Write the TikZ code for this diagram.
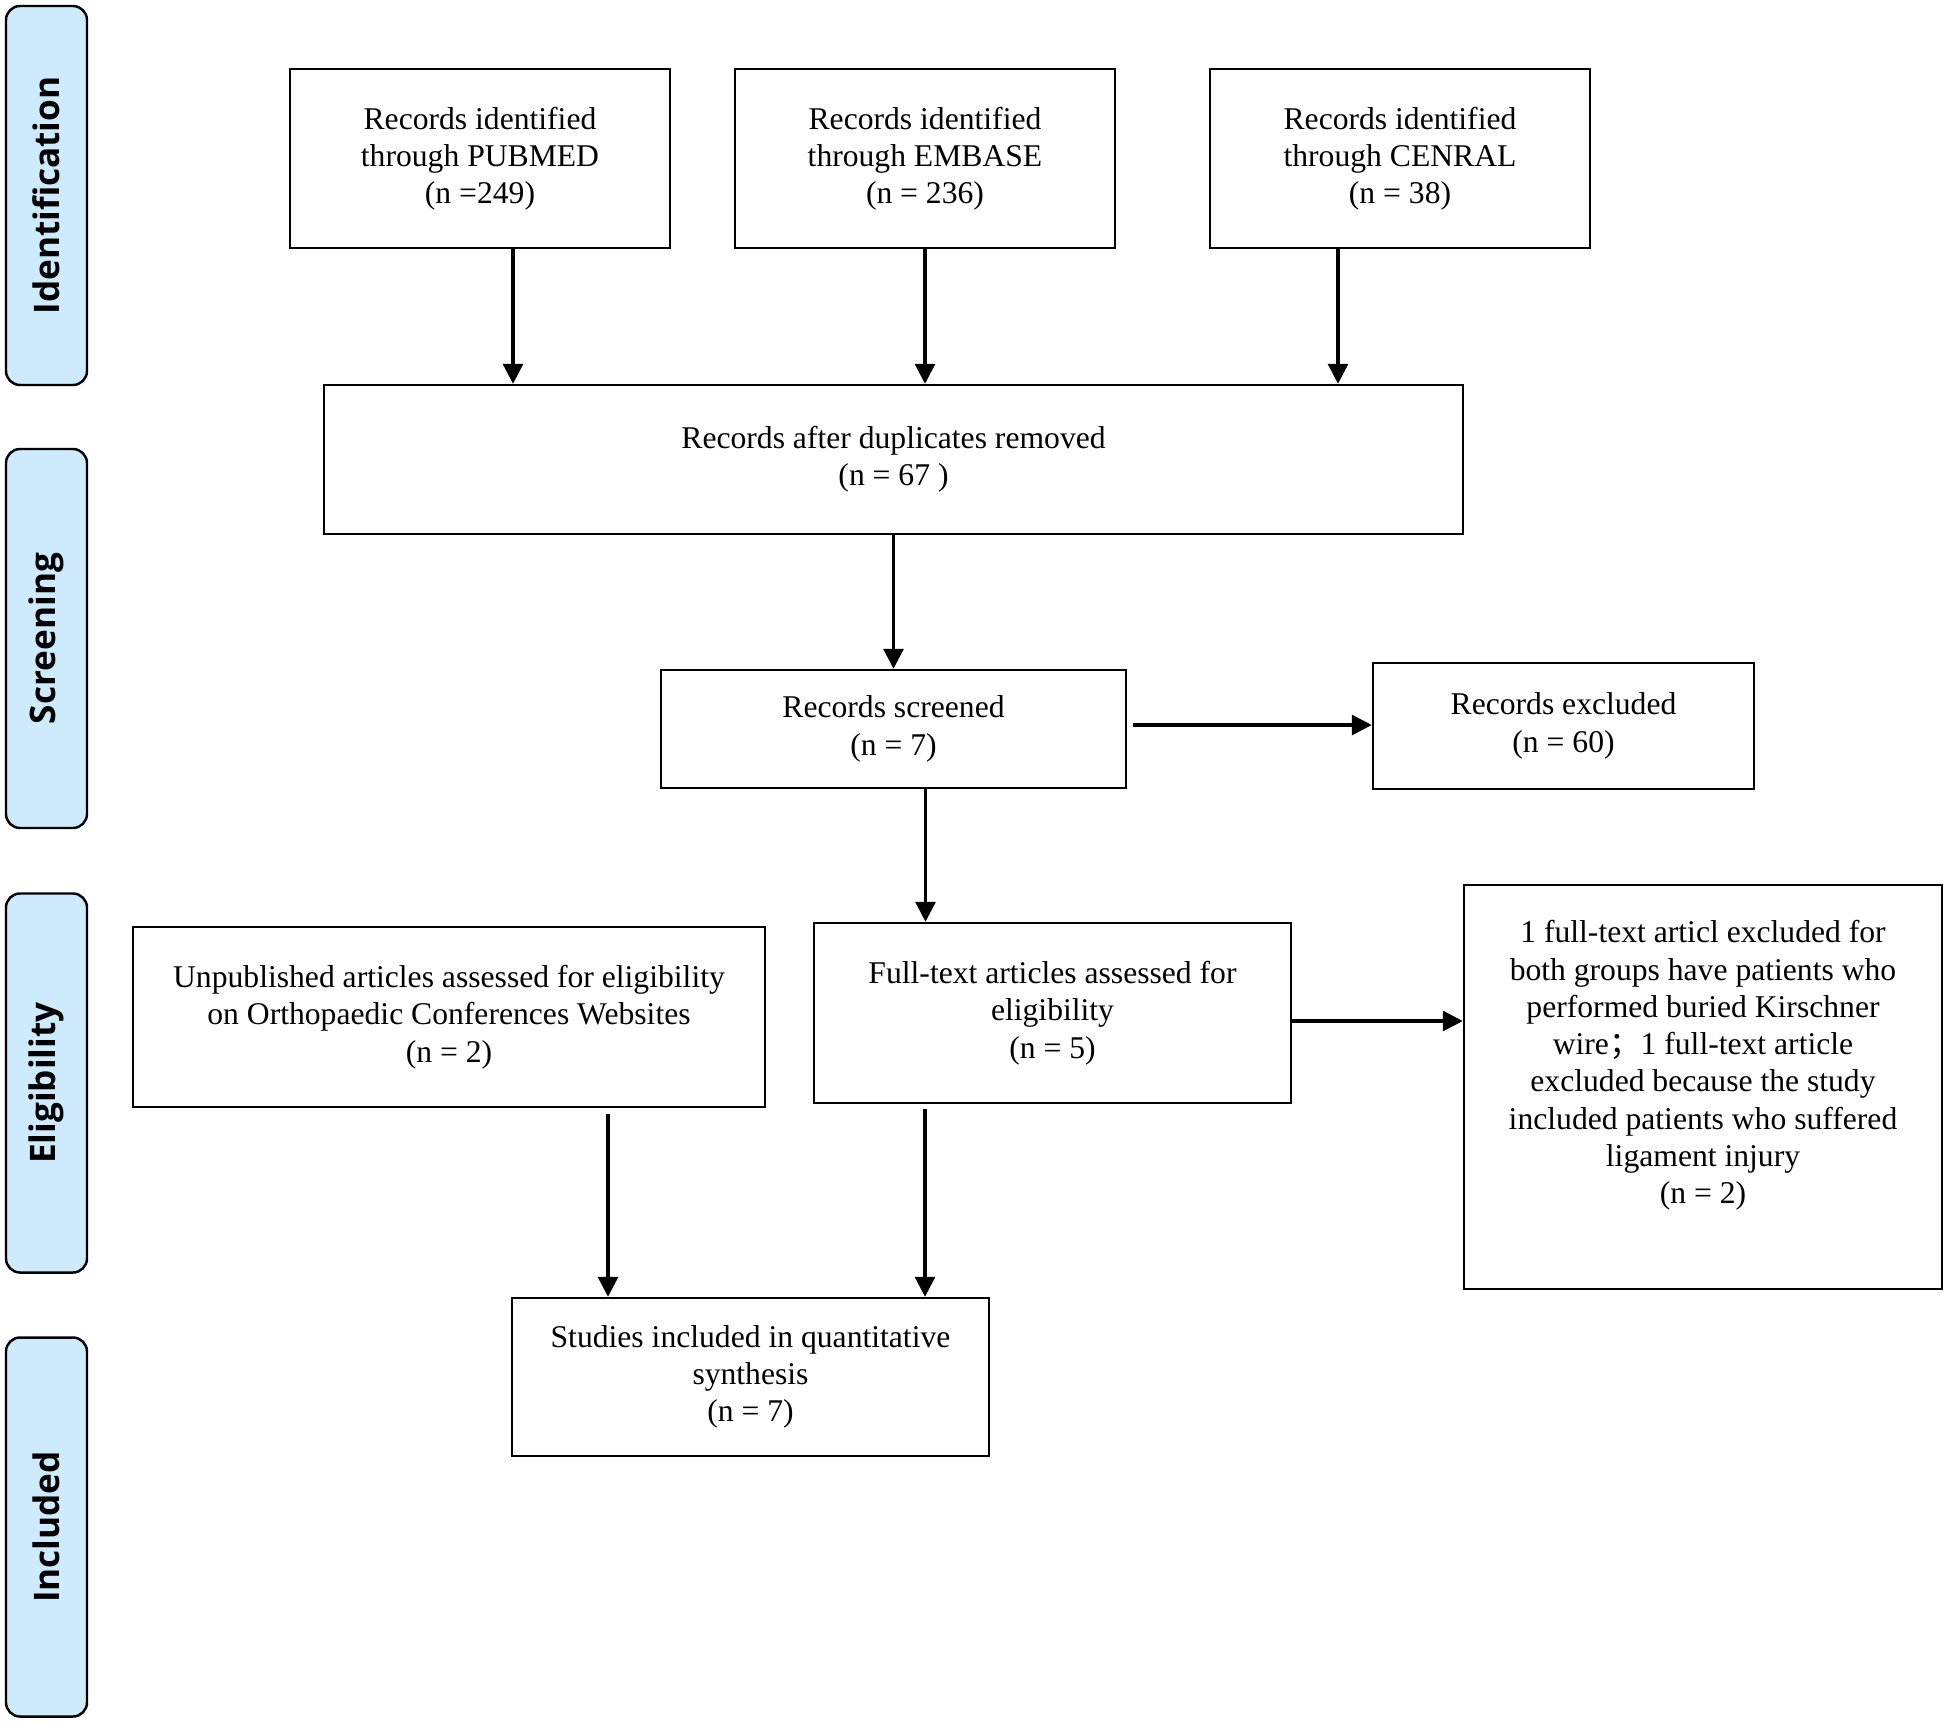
\documentclass[tikz,border=0pt]{standalone}
\usepackage{fontspec}
\setmainfont{Liberation Serif}
\newfontfamily\sidefont{Open Sans}
\newfontfamily\cjk{Noto Sans CJK SC}
\usetikzlibrary{arrows.meta, positioning}
\definecolor{stagefill}{RGB}{205,235,252}

\begin{document}
\begin{tikzpicture}[
    every node/.style = {font=\fontsize{9}{10.6}\selectfont},
    process/.style    = {rectangle, draw, line width=0.7pt, align=center,
                         inner sep=2pt},
    stage/.style      = {rectangle, draw, line width=0.7pt, rounded corners=4pt,
                         fill=stagefill, minimum width=37.9mm, minimum height=8.1mm,
                         rotate=90, font=\sidefont\bfseries\fontsize{10}{12}\selectfont},
    solidarrow/.style = {-{Triangle[length=2mm,width=2mm]}, line width=0.9pt}
  ]
  \useasboundingbox (0,0) rectangle (19.46,-17.23);

  % stages on the left
  \node[stage] (ident)  at (0.465,-1.955) {Identification};
  \node[stage] (screen) at (0.465,-6.385) {Screening};
  \node[stage] (elig)   at (0.465,-10.83) {Eligibility};
  \node[stage] (incl)   at (0.465,-15.27) {Included};

  % row 1
  \node[process, minimum width=38mm, minimum height=17.9mm] (pubmed) at (4.80,-1.585)
       {Records identified\\through PUBMED\\(n =249)};
  \node[process, minimum width=38mm, minimum height=17.9mm] (embase) at (9.25,-1.585)
       {Records identified\\through EMBASE\\(n = 236)};
  \node[process, minimum width=38mm, minimum height=17.9mm] (cenral) at (14.00,-1.585)
       {Records identified\\through CENRAL\\(n = 38)};
  % row 2
  \node[process, minimum width=113.9mm, minimum height=14.9mm] (dup) at (8.935,-4.595)
       {Records after duplicates removed\\(n = 67 )};
  % row 3
  \node[process, minimum width=46.5mm, minimum height=11.8mm] (screened) at (8.935,-7.29)
       {Records screened\\(n = 7)};
  \node[process, minimum width=38.1mm, minimum height=12.6mm] (excluded) at (15.635,-7.26)
       {Records excluded\\(n = 60)};
  % row 4
  \node[process, minimum width=63.2mm, minimum height=18mm] (unpub) at (4.49,-10.17)
       {Unpublished articles assessed for eligibility\\on Orthopaedic Conferences Websites\\(n = 2)};
  \node[process, minimum width=47.7mm, minimum height=18mm] (fulltext) at (10.525,-10.13)
       {Full-text articles assessed for\\eligibility\\(n = 5)};
  \node[process, minimum width=47.8mm, minimum height=40.4mm] (excl2) at (17.03,-10.87) {};
  \node[anchor=north, inner sep=0pt, align=center] (excl2txt) at ([yshift=-3.6mm]excl2.north)
       {1 full-text articl excluded for\\both groups have patients who\\performed buried Kirschner\\
        wire{\cjk ；}1 full-text article\\excluded because the study\\included patients who suffered\\
        ligament injury\\(n = 2)};
  % row 5
  \node[process, minimum width=47.7mm, minimum height=15.8mm] (studies) at (7.505,-13.77)
       {Studies included in quantitative\\synthesis\\(n = 7)};

  % arrows
  \foreach \src/\dx in {pubmed/3.3mm, embase/0mm, cenral/-6.2mm}
    \draw[solidarrow] ([xshift=\dx]\src.south) -- ([xshift=\dx]\src.south |- dup.north);
  \draw[solidarrow] (dup) -- (screened);
  \draw[solidarrow] ([xshift=0.6mm,yshift=0.4mm]screened.east) -- ([yshift=0.4mm]screened.east -| excluded.west);
  \draw[solidarrow] ([xshift=3.2mm]screened.south) -- ([xshift=3.2mm]screened.south |- fulltext.north);
  \draw[solidarrow] ([yshift=-0.8mm]fulltext.east) -- ([yshift=-0.8mm]fulltext.east -| excl2.west);
  \draw[solidarrow] ([xshift=15.9mm,yshift=-0.6mm]unpub.south) -- ([xshift=15.9mm]unpub.south |- studies.north);
  \draw[solidarrow] ([xshift=-12.75mm,yshift=-0.5mm]fulltext.south) -- ([xshift=-12.75mm]fulltext.south |- studies.north);

\end{tikzpicture}
\end{document}
